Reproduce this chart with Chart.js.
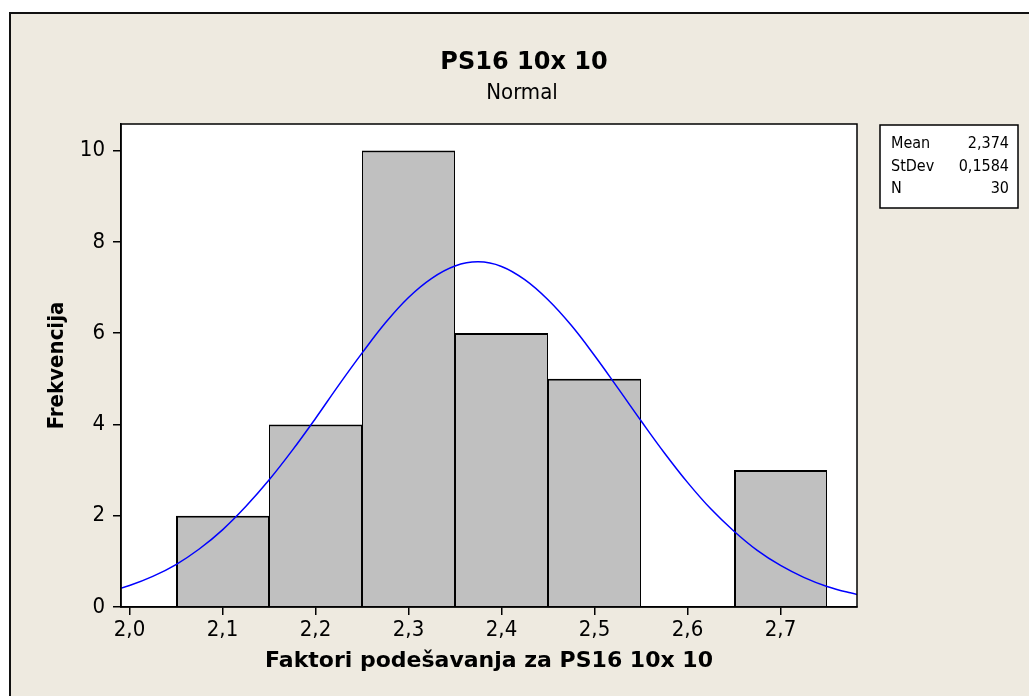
<!DOCTYPE html>
<html>
<head>
<meta charset="utf-8">
<script src="https://cdn.jsdelivr.net/npm/chart.js@4/dist/chart.umd.min.js"></script>
<style>
    body { margin: 0; background: #fff; }
</style>
</head>
<body>
<canvas id="hist-chart" width="1029" height="696"></canvas>
<script>
// histogram bins (centers) and counts
var binCenters = [2.1, 2.2, 2.3, 2.4, 2.5, 2.6, 2.7];
var binCounts = [2, 4, 10, 6, 5, 0, 3];

// fitted normal curve
var curveX = [1.975, 2.000, 2.025, 2.050, 2.075, 2.100, 2.125, 2.150, 2.175, 2.200, 2.225, 2.250, 2.275, 2.300, 2.325, 2.350, 2.375,
    2.400, 2.425, 2.450, 2.475, 2.500, 2.525, 2.550, 2.575, 2.600, 2.625, 2.650, 2.675, 2.700, 2.725, 2.750, 2.775, 2.800];
var curveY = [0.32, 0.47, 0.67, 0.93, 1.27, 1.69, 2.20, 2.78, 3.43, 4.13, 4.86, 5.56, 6.22, 6.78, 7.20, 7.47, 7.56,
    7.46, 7.17, 6.73, 6.17, 5.51, 4.80, 4.08, 3.38, 2.73, 2.15, 1.66, 1.24, 0.91, 0.65, 0.45, 0.31, 0.20];

var xTicks = [2.0, 2.1, 2.2, 2.3, 2.4, 2.5, 2.6, 2.7];
var yTicks = [0, 2, 4, 6, 8, 10];

var statLabels = ['Mean', 'StDev', 'N'];
var statValues = ['2,374', '0,1584', '30'];

var mainTitle = 'PS16 10x 10';
var subTitle = 'Normal';

var condFont = '"DejaVu Sans Condensed", "DejaVu Sans", sans-serif';
var wideFont = '"DejaVu Sans", sans-serif';

function toPoints(xs, ys) {
    var pts = [];
    for (var i = 0; i < xs.length; i++) {
        pts.push({ x: xs[i], y: ys[i] });
    }
    return pts;
}

var framePlugin = {
    id: 'frame',
    beforeDraw: function (chart) {
        var c = chart.ctx;
        var a = chart.chartArea;
        c.save();
        c.fillStyle = '#ffffff';
        c.fillRect(0, 0, chart.width, chart.height);
        c.fillStyle = '#eeeae0';
        c.fillRect(10, 13, chart.width, chart.height);
        c.strokeStyle = '#111';
        c.lineWidth = 2;
        c.beginPath();
        c.moveTo(10, chart.height + 2);
        c.lineTo(10, 13);
        c.lineTo(chart.width + 2, 13);
        c.stroke();
        c.fillStyle = '#ffffff';
        c.fillRect(a.left, a.top, a.right - a.left, a.bottom - a.top);

        // titles
        c.fillStyle = '#000';
        c.textAlign = 'center';
        c.textBaseline = 'alphabetic';
        c.font = 'bold 24px ' + wideFont;
        c.fillText(mainTitle, 524, 69);
        c.font = '22px ' + condFont;
        c.fillText(subTitle, 522, 99);

        // stats box
        c.fillStyle = '#fff';
        c.fillRect(880, 125, 138, 83);
        c.strokeStyle = '#000';
        c.lineWidth = 1.5;
        c.strokeRect(880, 125, 138, 83);
        c.fillStyle = '#000';
        c.font = '16px ' + condFont;
        for (var i = 0; i < statLabels.length; i++) {
            var y = 148 + i * 22.5;
            c.textAlign = 'left';
            c.fillText(statLabels[i], 891, y);
            c.textAlign = 'right';
            c.fillText(statValues[i], 1009, y);
        }
        c.restore();
    },
    afterDraw: function (chart) {
        var c = chart.ctx;
        var a = chart.chartArea;
        c.save();
        c.strokeStyle = '#000';
        c.lineWidth = 1.5;
        c.strokeRect(a.left, a.top, a.right - a.left, a.bottom - a.top);
        c.restore();
    }
};

var ctx = document.getElementById('hist-chart').getContext('2d');
var histChart = new Chart(ctx, {
    type: 'bar',
    plugins: [framePlugin],
    data: {
        datasets: [
            {
                type: 'line',
                label: 'Normal',
                data: toPoints(curveX, curveY),
                borderColor: '#0000ff',
                borderWidth: 1.5,
                pointRadius: 0,
                tension: 0.4,
                fill: false,
                order: 0
            },
            {
                type: 'bar',
                label: 'Frekvencija',
                data: toPoints(binCenters, binCounts),
                backgroundColor: '#c0c0c0',
                borderColor: '#000',
                borderWidth: function (c) {
                    return { top: 2, left: c.dataIndex === 0 || binCounts[c.dataIndex - 1] === 0 ? 2 : 1, right: 1, bottom: 0 };
                },
                borderSkipped: false,
                inflateAmount: 0,
                barPercentage: 1.0,
                categoryPercentage: 1.0,
                order: 1
            }
        ]
    },
    options: {
        responsive: false,
        animation: false,
        layout: {
            padding: { left: 30, right: 172, top: 124, bottom: 0 }
        },
        plugins: {
            legend: { display: false },
            title: { display: false },
            tooltip: { enabled: false }
        },
        scales: {
            x: {
                type: 'linear',
                min: 1.99086,
                max: 2.78226,
                offset: false,
                afterBuildTicks: function (scale) {
                    scale.ticks = xTicks.map(function (v) { return { value: v }; });
                },
                afterFit: function (scale) { scale.height = 89; },
                grid: { drawOnChartArea: false, drawTicks: true, tickLength: 8, color: '#000', lineWidth: 1.5, offset: false },
                border: { display: true, color: '#000', width: 1.5 },
                ticks: {
                    color: '#000',
                    padding: 2,
                    maxRotation: 0,
                    autoSkip: false,
                    font: { family: condFont, size: 22 },
                    callback: function (v) { return v.toFixed(1).replace('.', ','); }
                },
                title: {
                    display: true,
                    text: 'Faktori podešavanja za PS16 10x 10',
                    color: '#000',
                    padding: { top: 0, bottom: 22 },
                    font: { family: wideFont, size: 22, weight: 'bold' }
                }
            },
            y: {
                min: 0,
                max: 10.58,
                afterBuildTicks: function (scale) {
                    scale.ticks = yTicks.map(function (v) { return { value: v }; });
                },
                afterFit: function (scale) { scale.width = 91; },
                grid: { drawOnChartArea: false, drawTicks: true, tickLength: 8, color: '#000', lineWidth: 1.5 },
                border: { display: true, color: '#000', width: 1.5 },
                ticks: {
                    color: '#000',
                    padding: 8,
                    font: { family: condFont, size: 22 }
                },
                title: {
                    display: true,
                    text: 'Frekvencija',
                    color: '#000',
                    padding: { top: 14, bottom: 0 },
                    font: { family: condFont, size: 22, weight: 'bold' }
                }
            }
        }
    }
});
</script>
</body>
</html>
